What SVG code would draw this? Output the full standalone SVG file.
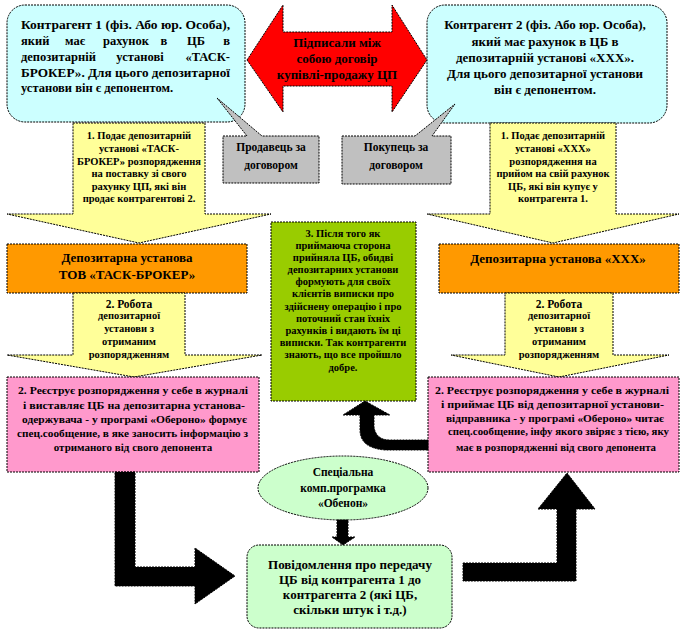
<svg xmlns="http://www.w3.org/2000/svg" width="686" height="641" viewBox="0 0 686 641" font-family="'Liberation Serif', 'DejaVu Serif', serif">
<style>
text{font-family:'Liberation Serif','DejaVu Serif',serif;font-weight:bold;fill:#000}
.c{text-anchor:middle}
.m{text-anchor:middle}
.e{text-anchor:end}
.bd{stroke:#000;stroke-width:1;stroke-dasharray:2 1}
.f13{font-size:13px}
.f12{font-size:12.5px}
.f11{font-size:11.5px}
.f10{font-size:10.5px}
.f9{font-size:10.5px}
.fp{font-size:11px}
.cyan{fill:#CCFFFF}
.grey{fill:#C0C0C0}
.yel{fill:#FFFF99}
.org{fill:#FF9900}
.pink{fill:#FF99CC}
.lime{fill:#99CC00}
.lgr{fill:#CCFFCC}
.blk{fill:#000}
</style>
<rect width="686" height="641" fill="#fff"/>

<g id="kontragent1">
<rect x="7" y="5" width="238" height="117" rx="18" class="cyan bd"/>
<text class="f12" x="21" y="29" textLength="209" lengthAdjust="spacingAndGlyphs">Контрагент 1 (фіз. Або юр. Особа),</text>
<text class="f12" x="21" y="45">який</text>
<text class="f12 m" x="75" y="45">має</text>
<text class="f12 m" x="126" y="45">рахунок</text>
<text class="f12 m" x="164" y="45">в</text>
<text class="f12 m" x="196" y="45">ЦБ</text>
<text class="f12 e" x="230" y="45">в</text>
<text class="f12" x="21" y="61">депозитарній</text>
<text class="f12 m" x="140" y="61">установі</text>
<text class="f12 e" x="230" y="61">«ТАСК-</text>
<text class="f12" x="21" y="77" textLength="209" lengthAdjust="spacingAndGlyphs">БРОКЕР». Для цього депозитарної</text>
<text class="f12" x="21" y="92">установи він є депонентом.</text>
</g>

<g id="kontragent2">
<rect x="427" y="5" width="240" height="118" rx="18" class="cyan bd"/>
<text class="f13 c" x="545" y="29">Контрагент  2 (фіз. Або юр. Особа),</text>
<text class="f13 c" x="545" y="46">який  має рахунок  в ЦБ в</text>
<text class="f13 c" x="545" y="62">депозитарній  установі  «ХХХ».</text>
<text class="f13 c" x="545" y="78">Для цього  депозитарної  установи</text>
<text class="f13 c" x="545" y="94">він є депонентом.</text>
</g>

<g id="dogovir">
<polygon points="247,60 283,5 283,32 392,32 392,5 427,60 392,112 392,86 283,86 283,112" fill="#FF0000" class="bd"/>
<text class="f13 c" x="337" y="47">Підписали  між</text>
<text class="f13 c" x="337" y="63">собою  договір</text>
<text class="f13 c" x="337" y="79">купівлі-продажу  ЦП</text>
</g>

<g id="prodavec">
<path d="M223,136 L247,136 L217,98 L262,136 L319,136 L319,183 L223,183 Z" class="grey bd"/>
<text class="f11 c" x="271" y="151">Продавець за</text>
<text class="f11 c" x="271" y="169">договором</text>
</g>

<g id="pokupec">
<path d="M342,136 L415,136 L455,104 L432,136 L451,136 L451,184 L342,184 Z" class="grey bd"/>
<text class="f11 c" x="396" y="151">Покупець за</text>
<text class="f11 c" x="396" y="169">договором</text>
</g>

<g id="krok1-left">
<polygon points="73,123 205,123 205,214 271,214 139,243 7,214 73,214" class="yel bd"/>
<text class="f10 c" x="139" y="139">1. Подає депозитарній</text>
<text class="f10 c" x="139" y="152">установі «ТАСК-</text>
<text class="f10 c" x="139" y="165">БРОКЕР» розпорядження</text>
<text class="f10 c" x="139" y="177">на поставку зі свого</text>
<text class="f10 c" x="139" y="190">рахунку ЦП, які він</text>
<text class="f10 c" x="139" y="202">продає контрагентові 2.</text>
</g>

<g id="krok1-right">
<polygon points="490,123 616,123 616,214 679,214 553,243 427,214 490,214" class="yel bd"/>
<text class="f10 c" x="553" y="139">1. Подає депозитарній</text>
<text class="f10 c" x="553" y="152">установі «ХХХ»</text>
<text class="f10 c" x="553" y="165">розпорядження на</text>
<text class="f10 c" x="553" y="177">прийом на свій рахунок</text>
<text class="f10 c" x="553" y="190">ЦБ, які він купує у</text>
<text class="f10 c" x="553" y="202">контрагента 1.</text>
</g>

<g id="ustanova-task">
<rect x="7" y="244" width="240" height="49" class="org bd"/>
<text class="f13 c" x="127" y="262">Депозитарна  установа</text>
<text class="f13 c" x="127" y="279">ТОВ «ТАСК-БРОКЕР»</text>
</g>

<g id="ustanova-xxx">
<rect x="439" y="244" width="240" height="49" class="org bd"/>
<text class="f13 c" x="558" y="263">Депозитарна  установа  «ХХХ»</text>
</g>

<g id="krok2-left">
<polygon points="73,293 185,293 185,355 262,355 134,377 7,355 73,355" class="yel bd"/>
<text class="f11 c" x="129" y="308">2. Робота</text>
<text class="f9 c" x="129" y="319">депозитарної</text>
<text class="f9 c" x="129" y="332">установи з</text>
<text class="f9 c" x="129" y="345">отриманим</text>
<text class="f9 c" x="129" y="358">розпорядженням</text>
</g>

<g id="krok2-right">
<polygon points="505,293 613,293 613,355 669,355 559,377 451,355 505,355" class="yel bd"/>
<text class="f11 c" x="559" y="308">2. Робота</text>
<text class="f9 c" x="559" y="319">депозитарної</text>
<text class="f9 c" x="559" y="332">установи з</text>
<text class="f9 c" x="559" y="345">отриманим</text>
<text class="f9 c" x="559" y="358">розпорядженням</text>
</g>

<g id="reestr-left">
<rect x="7" y="377" width="252" height="95" class="pink bd"/>
<text class="fp" x="18" y="394" textLength="230" lengthAdjust="spacingAndGlyphs">2. Реєструє розпорядження у себе в журналі</text>
<text class="fp" x="23" y="409" textLength="222" lengthAdjust="spacingAndGlyphs">і виставляє ЦБ на депозитарна установа-</text>
<text class="fp" x="22" y="423" textLength="225" lengthAdjust="spacingAndGlyphs">одержувача - у програмі «Обероно» формує</text>
<text class="fp" x="17" y="437" textLength="231" lengthAdjust="spacingAndGlyphs">спец.сообщение,  в яке заносить інформацію з</text>
<text class="fp c" x="133" y="451">отриманого від свого депонента</text>
</g>

<g id="reestr-right">
<rect x="428" y="377" width="251" height="95" class="pink bd"/>
<text class="fp" x="435" y="394" textLength="234" lengthAdjust="spacingAndGlyphs">2. Реєструє розпорядження у себе в журналі</text>
<text class="fp" x="441" y="408" textLength="223" lengthAdjust="spacingAndGlyphs">і приймає ЦБ від депозитарної установи-</text>
<text class="fp" x="446" y="422" textLength="218" lengthAdjust="spacingAndGlyphs">відправника  - у програмі «Обероно» читає</text>
<text class="fp" x="448" y="435" textLength="221" lengthAdjust="spacingAndGlyphs">спец.сообщение,  інфу якого звіряє з тією, яку</text>
<text class="fp" x="456" y="451" textLength="200" lengthAdjust="spacingAndGlyphs">має в розпорядженні від свого депонента</text>
</g>

<g id="krok3">
<rect x="271" y="222" width="145" height="179" class="lime bd"/>
<text class="f9 c" x="343" y="237">3. Після того як</text>
<text class="f9 c" x="343" y="249">приймаюча сторона</text>
<text class="f9 c" x="343" y="261">прийняла ЦБ, обидві</text>
<text class="f9 c" x="343" y="273">депозитарних установи</text>
<text class="f9 c" x="343" y="285">формують для своїх</text>
<text class="f9 c" x="343" y="297">клієнтів виписки про</text>
<text class="f9 c" x="343" y="310">здійснену операцію і про</text>
<text class="f9 c" x="343" y="322">поточний стан їхніх</text>
<text class="f9 c" x="343" y="334">рахунків і видають їм ці</text>
<text class="f9 c" x="343" y="346">виписки. Так контрагенти</text>
<text class="f9 c" x="343" y="358">знають, що все пройшло</text>
<text class="f9 c" x="343" y="371">добре.</text>
</g>

<g id="programa">
<ellipse cx="343" cy="488" rx="85" ry="32" class="lgr bd"/>
<text class="f11 c" x="343" y="476">Спеціальна</text>
<text class="f11 c" x="343" y="492">комп.програмка</text>
<text class="f11 c" x="343" y="507">«Обенон»</text>
</g>

<g id="povidomlennia">
<rect x="247" y="545" width="205" height="83" rx="12" class="lgr bd"/>
<text class="f13 c" x="350" y="569">Повідомлення  про  передачу</text>
<text class="f13 c" x="350" y="584">ЦБ від контрагента  1 до</text>
<text class="f13 c" x="350" y="599">контрагента  2 (які ЦБ,</text>
<text class="f13 c" x="350" y="614">скільки  штук  і т.д.)</text>
</g>

<g id="connectors">
<path d="M360,415 L343,415 L365,401 L390,415 L374,415 L374,427 Q376,440 390,440 L428,440 L428,450 L385,450 Q360,448 360,430 Z" class="blk bd"/>
<polygon points="337,520 348,520 348,537 355,537 343,545 332,537 337,537" class="blk bd"/>
<polygon points="115,472 135,472 135,567 195,567 195,548 235,576 195,604 195,586 115,586" class="blk bd"/>
<polygon points="463,563 557,563 557,509 538,509 567,473 595,509 576,509 576,581 463,581" class="blk bd"/>
</g>
</svg>
